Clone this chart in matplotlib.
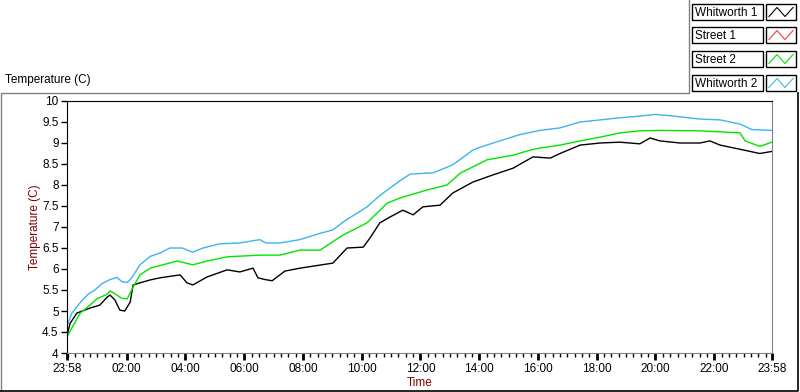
import matplotlib.pyplot as plt
from matplotlib.patches import Rectangle
from matplotlib.lines import Line2D

plt.rcParams['font.family'] = ['Liberation Sans', 'DejaVu Sans']

# minutes after 23:58 (start of the run)
blue_t = [0, 10, 27, 43, 57, 71, 88, 102, 112, 123, 133, 149, 170, 190, 210, 235, 257, 278, 312, 353,
          394, 406, 435, 476, 517, 543, 568, 613, 639, 660, 680, 701, 748, 788, 829, 844, 884, 925, 966,
          1007, 1048, 1089, 1129, 1170, 1201, 1232, 1293, 1334, 1375, 1399, 1440]
blue_v = [4.65, 4.95, 5.2, 5.4, 5.5, 5.65, 5.75, 5.8, 5.7, 5.68, 5.8, 6.1, 6.3, 6.38, 6.5, 6.5, 6.4, 6.5, 6.6, 6.62,
          6.7, 6.62, 6.62, 6.7, 6.85, 6.93, 7.15, 7.48, 7.75, 7.93, 8.1, 8.26, 8.29, 8.48, 8.83, 8.9, 9.05, 9.2, 9.3,
          9.36, 9.5, 9.55, 9.6, 9.64, 9.68, 9.65, 9.57, 9.55, 9.45, 9.32, 9.3]

green_t = [0, 10, 27, 47, 61, 82, 88, 102, 112, 123, 135, 149, 170, 196, 225, 257, 286, 327, 394, 435,
           476, 517, 564, 613, 654, 680, 735, 776, 803, 858, 911, 946, 966, 1007, 1048, 1089, 1129, 1170,
           1211, 1293, 1375, 1385, 1415, 1440]
green_v = [4.38, 4.6, 4.95, 5.14, 5.29, 5.4, 5.48, 5.38, 5.3, 5.29, 5.57, 5.86, 6.02, 6.1, 6.19, 6.1, 6.19, 6.29, 6.33, 6.33,
           6.45, 6.45, 6.81, 7.1, 7.57, 7.69, 7.88, 8.0, 8.28, 8.6, 8.71, 8.83, 8.88, 8.95, 9.05, 9.14, 9.24, 9.29,
           9.3, 9.29, 9.24, 9.05, 8.92, 9.02]

black_t = [0, 6, 20, 47, 67, 82, 88, 98, 108, 118, 129, 135, 149, 170, 190, 231, 245, 257, 286, 327, 353, 380,
           390, 404, 419, 445, 476, 543, 572, 605, 619, 639, 660, 686, 707, 727, 762, 788, 829, 870, 911, 952,
           987, 1007, 1048, 1089, 1129, 1170, 1191, 1211, 1252, 1293, 1313, 1334, 1375, 1415, 1440]
black_v = [4.4, 4.7, 4.95, 5.07, 5.14, 5.33, 5.38, 5.26, 5.02, 5.0, 5.21, 5.62, 5.67, 5.74, 5.79, 5.86, 5.67, 5.62, 5.81, 5.98, 5.93, 6.02,
           5.79, 5.75, 5.72, 5.95, 6.02, 6.14, 6.5, 6.52, 6.74, 7.1, 7.24, 7.4, 7.29, 7.48, 7.52, 7.81, 8.07, 8.24, 8.4, 8.67,
           8.64, 8.75, 8.95, 9.0, 9.02, 8.98, 9.12, 9.05, 9.0, 9.0, 9.05, 8.95, 8.85, 8.75, 8.8]

street1_t = []
street1_v = []

tick_pos = [0, 122, 242, 362, 482, 602, 722, 842, 962, 1082, 1202, 1322, 1440]
tick_lab = ['23:58', '02:00', '04:00', '06:00', '08:00', '10:00', '12:00', '14:00',
            '16:00', '18:00', '20:00', '22:00', '23:58']
y_ticks = [4, 4.5, 5, 5.5, 6, 6.5, 7, 7.5, 8, 8.5, 9, 9.5, 10]

names = ['Whitworth 1', 'Street 1', 'Street 2', 'Whitworth 2']
colors = ['#000000', '#ff3a3a', '#00e400', '#3cb4f0']

W, H = 800, 392
fig = plt.figure(figsize=(W / 100, H / 100), dpi=100)

ax = fig.add_axes([67 / W, 1 - 353 / H, (772 - 67) / W, (353 - 101) / H])
ax.plot(black_t, black_v, color=colors[0], lw=1.0)
ax.plot(street1_t, street1_v, color=colors[1], lw=1.0)
ax.plot(green_t, green_v, color=colors[2], lw=1.0)
ax.plot(blue_t, blue_v, color=colors[3], lw=1.0)

ax.set_xlim(0, 1440)
ax.set_ylim(4, 10)
ax.set_xticks(tick_pos)
ax.set_xticklabels(tick_lab)
ax.set_xticks([2 + 15 * k for k in range(96)], minor=True)
ax.set_yticks(y_ticks)
ax.set_yticklabels(['%g' % v for v in y_ticks])
ax.tick_params(axis='both', which='major', direction='out', labelsize=8.5, colors='black', width=1)
ax.tick_params(axis='x', which='major', length=5, width=2, pad=2)
ax.tick_params(axis='x', which='minor', length=3, width=1)
ax.tick_params(axis='y', length=4, pad=2)
ax.spines['top'].set_color('black')
ax.spines['left'].set_color('black')
ax.spines['right'].set_color('#808080')
ax.spines['bottom'].set_color('#808080')
ax.set_xlabel('Time', color='#800000', fontsize=8.5, labelpad=2)
ax.set_ylabel('Temperature (C)', color='#800000', fontsize=8.5, labelpad=1)

# frame and legend drawn in pixel coordinates
ov = fig.add_axes([0, 0, 1, 1], facecolor='none')
ov.set_xlim(0, W)
ov.set_ylim(H, 0)
ov.axis('off')
ov.add_line(Line2D([1, 1, 689, 689], [392, 93, 93, 0], color='#808080', lw=1))
ov.add_line(Line2D([0, 798, 798], [390.5, 390.5, 93], color='black', lw=1.2))
ov.text(5, 80, 'Temperature (C)', fontsize=8.5, va='center', ha='left')

rows = [4, 27, 51, 75]
for top, name, c in zip(rows, names, colors):
    ov.add_patch(Rectangle((692, top), 71, 16, fill=False, edgecolor='black', lw=1))
    ov.text(695, top + 8.5, name, fontsize=8.5, va='center', ha='left')
    ov.add_patch(Rectangle((766, top), 30, 16, fill=False, edgecolor='black', lw=1))
    ov.add_line(Line2D([769, 777, 785, 793], [top + 12.5, top + 3.5, top + 12.5, top + 3.5], color=c, lw=0.8))

fig.savefig('out.png', dpi=100)
